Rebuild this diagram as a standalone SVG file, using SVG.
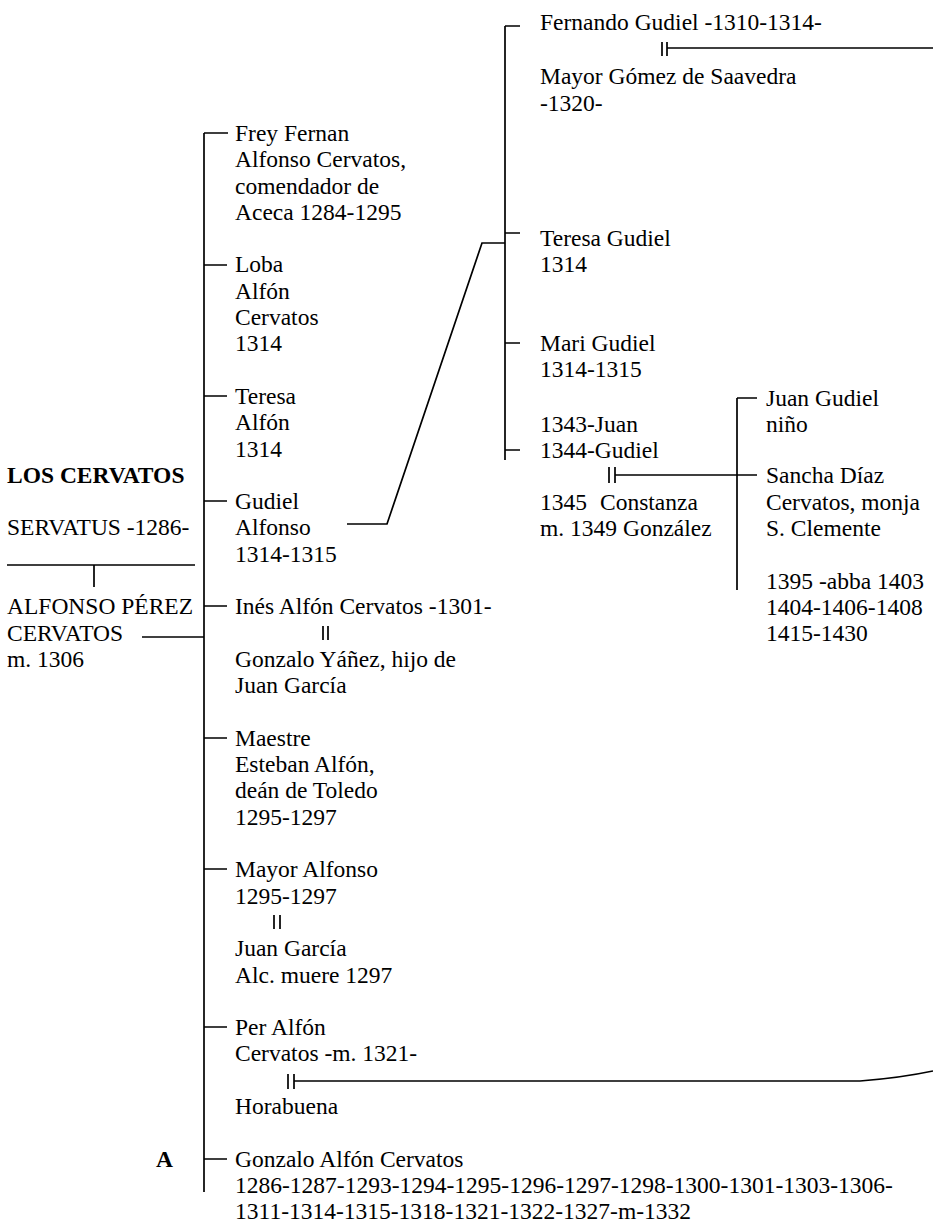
<svg xmlns="http://www.w3.org/2000/svg" width="933" height="1223" viewBox="0 0 933 1223">
<style>
text{font-family:"Liberation Serif","Times New Roman",serif;font-size:23.5px;fill:#000}
.b{font-weight:bold}
.ln{stroke:#000;stroke-width:1.7;fill:none}
</style>
<rect width="933" height="1223" fill="#fff"/>
<g id="connectors" class="ln">
<path d="M204,133 V1192"/>
<path d="M204,133 H228 M204,265 H227 M204,396 H227 M204,501 H227 M204,606 H227 M204,738 H227 M204,869 H227 M204,1027 H227 M204,1159 H227"/>
<path d="M7,565 H195 M94,565 V587"/>
<path d="M142,637 H204"/>
<path d="M347,524 H387 L482,243 H505"/>
<path d="M505,26 V460 M505,26 H520 M505,233 H520 M505,343 H520 M505,450 H520"/>
<path d="M662,42 V56 M667,42 V56 M667,48 H933"/>
<path d="M737,398 V590 M737,398 H757"/>
<path d="M609,467 V483 M615,467 V483 M615,475 H757"/>
<path d="M323,626 V640 M328,626 V640"/>
<path d="M274,915 V929 M280,915 V929"/>
<path d="M288,1074 V1089 M294,1074 V1089 M294,1081 H860 Q900,1078 933,1071"/>
</g>
<g id="root">
<text class="b" x="7" y="483">LOS CERVATOS</text>
<text x="7" y="535">SERVATUS -1286-</text>
</g>
<g id="alfonso-perez">
<text x="7" y="614">ALFONSO PÉREZ</text>
<text x="7" y="641">CERVATOS</text>
<text x="7" y="667">m. 1306</text>
</g>
<g id="frey-fernan">
<text x="235" y="141">Frey Fernan</text>
<text x="235" y="167">Alfonso Cervatos,</text>
<text x="235" y="194">comendador de</text>
<text x="235" y="220">Aceca 1284-1295</text>
</g>
<g id="loba">
<text x="235" y="272">Loba</text>
<text x="235" y="299">Alfón</text>
<text x="235" y="325">Cervatos</text>
<text x="235" y="351">1314</text>
</g>
<g id="teresa-alfon">
<text x="235" y="404">Teresa</text>
<text x="235" y="430">Alfón</text>
<text x="235" y="457">1314</text>
</g>
<g id="gudiel-alfonso">
<text x="235" y="509">Gudiel</text>
<text x="235" y="535">Alfonso</text>
<text x="235" y="562">1314-1315</text>
</g>
<g id="ines">
<text x="235" y="614">Inés Alfón Cervatos -1301-</text>
<text x="235" y="667">Gonzalo Yáñez, hijo de</text>
<text x="235" y="693">Juan García</text>
</g>
<g id="maestre">
<text x="235" y="746">Maestre</text>
<text x="235" y="772">Esteban Alfón,</text>
<text x="235" y="798">deán de Toledo</text>
<text x="235" y="825">1295-1297</text>
</g>
<g id="mayor-alfonso">
<text x="235" y="877">Mayor Alfonso</text>
<text x="235" y="904">1295-1297</text>
<text x="235" y="956">Juan García</text>
<text x="235" y="983">Alc. muere 1297</text>
</g>
<g id="per-alfon">
<text x="235" y="1035">Per Alfón</text>
<text x="235" y="1061">Cervatos -m. 1321-</text>
<text x="235" y="1114">Horabuena</text>
</g>
<g id="gonzalo">
<text class="b" x="156" y="1167">A</text>
<text x="235" y="1167">Gonzalo Alfón Cervatos</text>
<text x="235" y="1193">1286-1287-1293-1294-1295-1296-1297-1298-1300-1301-1303-1306-</text>
<text x="235" y="1219">1311-1314-1315-1318-1321-1322-1327-m-1332</text>
</g>
<g id="fernando-gudiel">
<text x="540" y="30">Fernando Gudiel -1310-1314-</text>
<text x="540" y="84">Mayor Gómez de Saavedra</text>
<text x="540" y="111">-1320-</text>
</g>
<g id="teresa-gudiel">
<text x="540" y="246">Teresa Gudiel</text>
<text x="540" y="272">1314</text>
</g>
<g id="mari-gudiel">
<text x="540" y="351">Mari Gudiel</text>
<text x="540" y="377">1314-1315</text>
</g>
<g id="juan-gudiel-1343">
<text x="540" y="432">1343-Juan</text>
<text x="540" y="458">1344-Gudiel</text>
<text x="540" y="510">1345<tspan x="600">Constanza</tspan></text>
<text x="540" y="536">m. 1349 González</text>
</g>
<g id="juan-gudiel-nino">
<text x="766" y="406">Juan Gudiel</text>
<text x="766" y="432">niño</text>
</g>
<g id="sancha">
<text x="766" y="483">Sancha Díaz</text>
<text x="766" y="510">Cervatos, monja</text>
<text x="766" y="536">S. Clemente</text>
<text x="766" y="589">1395 -abba 1403</text>
<text x="766" y="615">1404-1406-1408</text>
<text x="766" y="641">1415-1430</text>
</g>
</svg>
